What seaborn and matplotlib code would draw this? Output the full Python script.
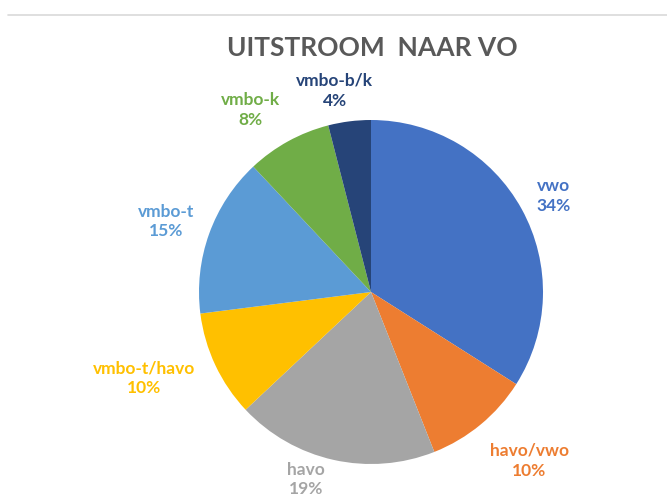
import matplotlib.pyplot as plt
import seaborn as sns
from matplotlib.lines import Line2D

categories = ["vwo", "havo/vwo", "havo", "vmbo-t/havo", "vmbo-t", "vmbo-k", "vmbo-b/k"]
shares = [34, 10, 19, 10, 15, 8, 4]
colors = ["#4472C4", "#ED7D31", "#A5A5A5", "#FFC000", "#5B9BD5", "#70AD47", "#264478"]
label_pos = [(1.06, 0.56), (0.92, -0.98), (-0.38, -1.09), (-1.32, -0.50),
             (-1.19, 0.41), (-0.70, 1.06), (-0.21, 1.17)]

sns.set_theme(style="white")
plt.rcParams["font.family"] = ["Lato", "DejaVu Sans"]

fig = plt.figure(figsize=(6.67, 5.01), dpi=100)
ax = fig.add_axes([0, 0, 1, 1])

ax.pie(shares, colors=colors, startangle=90, counterclock=False, radius=1,
       wedgeprops={"linewidth": 0})

for name, val, col, (x, y) in zip(categories, shares, colors, label_pos):
    ax.text(x, y, f"{name}\n{val}%", color=col, ha="center", va="center",
            fontsize=12.5, fontweight="bold", linespacing=1.3)

ax.set_xlim(-371 / 172, (667 - 371) / 172)
ax.set_ylim(-(501 - 292) / 172, 292 / 172)
ax.set_aspect("equal")
ax.axis("off")

fig.text(0.558, 0.904, "UITSTROOM  NAAR VO", ha="center", va="center",
         fontsize=19, fontweight="bold", color="#595959")
fig.add_artist(Line2D([0.012, 1.0], [0.97, 0.97], color="#D9D9D9", linewidth=1.2,
                      transform=fig.transFigure))

fig.savefig("out.png", dpi=100)
